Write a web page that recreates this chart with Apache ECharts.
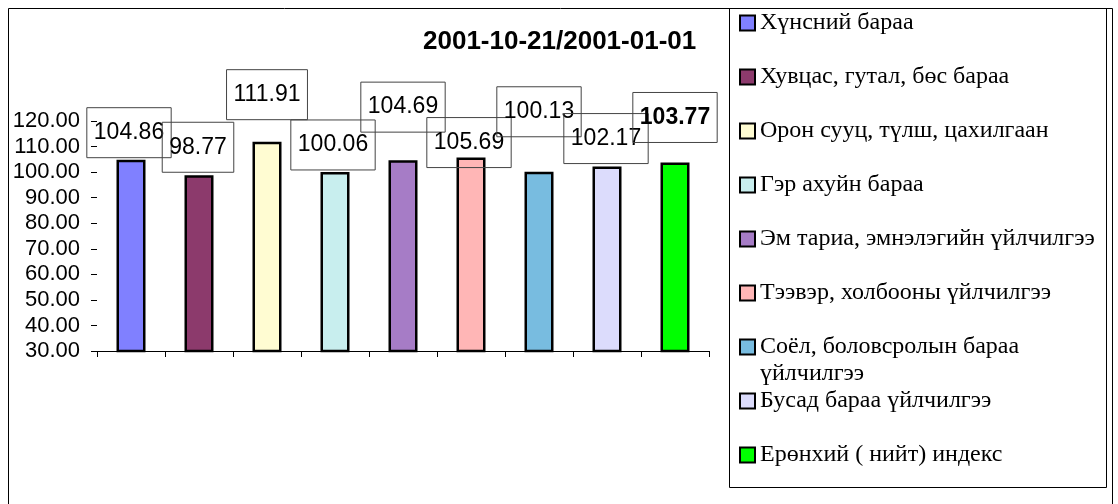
<!DOCTYPE html>
<html>
<head>
<meta charset="utf-8">
<script src="https://cdn.jsdelivr.net/npm/echarts@6/dist/echarts.min.js"></script>
<style>
  html, body { margin: 0; padding: 0; background: #fff; }
  #main { width: 1118px; height: 504px; }
</style>
</head>
<body>
<div id="main"></div>
<script>
// бараа, үйлчилгээний бүлгүүд
var groupNames = [
  "Хүнсний бараа",
  "Хувцас, гутал, бөс бараа",
  "Орон сууц, түлш, цахилгаан",
  "Гэр ахуйн бараа",
  "Эм тариа, эмнэлэгийн үйлчилгээ",
  "Тээвэр, холбооны үйлчилгээ",
  "Соёл, боловсролын бараа үйлчилгээ",
  "Бусад бараа үйлчилгээ",
  "Ерөнхий ( нийт) индекс"
];
// индекс, 2001-10-21 / 2001-01-01
var indexValues = [104.86, 98.77, 111.91, 100.06, 104.69, 105.69, 100.13, 102.17, 103.77];
// y тэнхлэг
var yMin = 30;
var yMax = 120;
var yStep = 10;

var barColors = ["#8080ff", "#8c3a6c", "#fffcd2", "#c8eeee", "#a67cc6", "#ffb6b6", "#78bce0", "#dcdcfc", "#00ff00"];
// шошгоны хайрцгийн шилжилт (пиксел)
var labelOffsets = [[-2, -2], [-1, -3], [0, -22], [-2, -2], [0, -28], [-2, 10], [0, -35], [-1, -3], [0, -20]];

var chart = echarts.init(document.getElementById("main"));

var series = groupNames.map(function (name, i) {
  return {
    name: name,
    type: "bar",
    barWidth: 29,
    barGap: "-100%",
    itemStyle: { color: barColors[i], borderColor: "#000", borderWidth: 2.5 },
    data: indexValues.map(function (v, j) {
      if (j !== i) return null;
      return {
        value: v,
        label: {
          show: true,
          position: "top",
          distance: 0,
          offset: labelOffsets[i],
          formatter: v.toFixed(2),
          fontFamily: "Liberation Sans",
          fontSize: 23,
          fontWeight: i === 8 ? "bold" : "normal",
          lineHeight: 22,
          color: "#000",
          borderColor: "#444",
          borderWidth: 1,
          padding: [14, 7]
        }
      };
    })
  };
});

var legends = groupNames.map(function (name, i) {
  var center = 23 + 54 * i;
  var twoLine = i === 6;
  return {
    data: [name],
    orient: "vertical",
    left: 739,
    top: twoLine ? center - 40.5 : center - 13.5,
    padding: 0,
    itemWidth: 15,
    itemHeight: 15,
    icon: "rect",
    selectedMode: false,
    // хоёр мөрт нэрийн эхний мөрийг тэмдэгтэй нэг түвшинд
    formatter: twoLine ? "\nСоёл, боловсролын бараа\nүйлчилгээ" : "{name}",
    textStyle: {
      fontFamily: "Liberation Serif",
      fontSize: 24,
      lineHeight: 27,
      color: "#000"
    }
  };
});

var option = {
  animation: false,
  title: {
    text: "2001-10-21/2001-01-01",
    left: 423,
    top: 29,
    padding: 0,
    textStyle: { fontFamily: "Liberation Sans", fontSize: 26, fontWeight: "bold", color: "#000" }
  },
  legend: legends,
  grid: { left: 97, right: 409, top: 121, bottom: 153, containLabel: false },
  xAxis: {
    type: "category",
    data: groupNames,
    axisLine: { lineStyle: { color: "#000", width: 1 } },
    axisTick: { show: true, interval: 0, length: 6, lineStyle: { color: "#000" } },
    axisLabel: { show: false },
    splitLine: { show: false }
  },
  yAxis: {
    type: "value",
    min: yMin,
    max: yMax,
    interval: yStep,
    axisLine: { show: false },
    axisTick: { show: true, length: 6, lineStyle: { color: "#000" } },
    splitLine: { show: false },
    axisLabel: {
      margin: 17,
      fontFamily: "Liberation Sans",
      fontSize: 22,
      color: "#000",
      formatter: function (v) { return v.toFixed(2); }
    }
  },
  graphic: [
    { type: "rect", shape: { x: 8.5, y: 8.5, width: 1104, height: 520 }, style: { fill: null, stroke: "#000", lineWidth: 1 }, silent: true },
    { type: "rect", shape: { x: 729.5, y: 8.5, width: 377, height: 479 }, style: { fill: null, stroke: "#000", lineWidth: 1 }, silent: true }
  ],
  series: series
};

chart.setOption(option);
</script>
</body>
</html>
